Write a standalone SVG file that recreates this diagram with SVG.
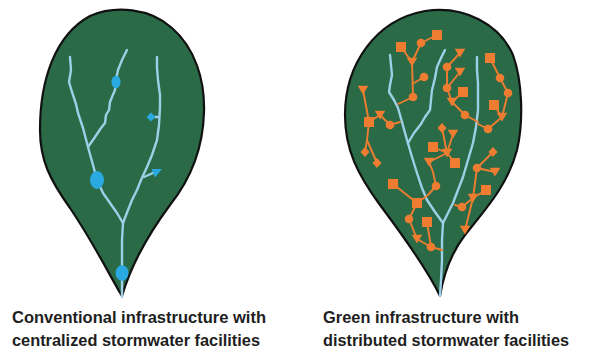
<svg xmlns="http://www.w3.org/2000/svg" width="590" height="356" viewBox="0 0 590 356" xmlns:xlink="http://www.w3.org/1999/xlink">
<style>
.leaf{fill:#2a6a46;stroke:#111;stroke-width:2.2;stroke-linejoin:round}
.stream{fill:none;stroke:#9dd0e6;stroke-width:2.4;stroke-linejoin:round;stroke-linecap:round}
.bl{fill:#2aa9e0}
.or{fill:#ef7d31}
.ol{fill:none;stroke:#ef7d31;stroke-width:1.9;stroke-linecap:round;stroke-linejoin:round}
.lbl{font-family:"Liberation Sans",Arial,sans-serif;font-weight:bold;font-size:17.3px;fill:#1e1e1e}
</style>
<defs>
<rect id="sq" x="-5" y="-5" width="10" height="10"/>
<circle id="ci" r="4.3"/>
<polygon id="tr" points="-5.3,-4.2 5.3,-4.2 0,4.6"/>
<polygon id="di" points="0,-5 4.5,0 0,5 -4.5,0"/>
</defs>

<g id="conventional">
<path class="leaf" d="M122,296 C112,280 95,245 70,208 C50,180 40,160 40,130 C40,80 55,35 90,16 C115,5 150,8 172,28 C195,48 205,80 204,112 C203,150 190,180 170,205 C150,232 132,262 122,296 Z"/>
<g id="conv-streams">
<polyline class="stream" points="70,57 71,70 69,82 72,92 76,104 78,113 83,128 88,147 93,165 97,180 103,193 110,203 117,213 123,223 122,240 122,260 122,297"/>
<polyline class="stream" points="127,50 122,60 118,70 116,80 115,90 112,97 110,102 109,110 106,115 105,123 101,128 95,137 88,147"/>
<polyline class="stream" points="157,57 157,68 158,80 160,95 160,107 159,125 157,140 152,155 147,167 141,180 137,190 132,200 128,210 123,223"/>
<polyline class="stream" points="144,177 153,173"/>
<line class="stream" x1="155" y1="117" x2="158" y2="117"/>
</g>
<ellipse class="bl" cx="116" cy="82" rx="4.5" ry="6.3"/>
<ellipse class="bl" cx="97" cy="180" rx="7" ry="9"/>
<ellipse class="bl" cx="122" cy="273" rx="6.5" ry="7.7"/>
<polygon class="bl" points="146.5,117 151,112.5 155.5,117 151,121.5"/>
<polygon class="bl" points="151.5,169 162,169 155,177.5"/>
</g>

<g id="green">
<path class="leaf" d="M440,296 C430,275 410,245 380,205 C358,175 345,150 345,115 C345,65 375,20 425,11 C465,5 500,25 513,55 C522,80 524,120 517,150 C508,185 485,210 465,235 C452,252 444,272 440,296 Z"/>
<g id="green-streams">
<polyline class="stream" points="390,55 391,65 392,75 390,85 389,92 394,100 398,108 402,122 407,140 412,157 417,173 422,188 427,200 435,212 443,223"/>
<polyline class="stream" points="445,50 441,58 437,67 435,78 432,90 431,100 430,110 425,117 421,124 414,133 408,143"/>
<polyline class="stream" points="477,57 477,70 478,83 478,97 478,110 476,127 473,143 468,160 463,177 458,190 453,203 448,213 443,223 442,240 442,260 441,280 440,296"/>
</g>
<g id="facilities-links">
<polyline class="ol" points="401,47 412,62 421,43 437,35"/>
<polyline class="ol" points="412,62 413,97 398,104"/>
<polyline class="ol" points="414,83 424,77"/>
<polyline class="ol" points="363,90 369,122 380,115 390,125 400,122"/>
<polyline class="ol" points="369,122 367,140 365,152"/>
<polyline class="ol" points="367,140 377,163"/>
<polyline class="ol" points="460,53 447,67 447,88 460,72"/>
<polyline class="ol" points="447,88 452,102 465,115 478,122"/>
<polyline class="ol" points="463,92 452,102"/>
<polyline class="ol" points="490,58 500,78 508,93 502,117 488,129 478,124"/>
<polyline class="ol" points="494,105 502,117"/>
<polyline class="ol" points="442,128 447,153 455,163"/>
<polyline class="ol" points="453,134 447,153 433,147"/>
<polyline class="ol" points="447,153 429,162 433,172 436,186 428,195 417,203 393,184"/>
<polyline class="ol" points="417,203 409,219 417,239 431,247 442,250"/>
<polyline class="ol" points="427,222 431,247"/>
<polyline class="ol" points="493,152 477,168 495,172"/>
<polyline class="ol" points="477,168 473,198 486,190"/>
<polyline class="ol" points="473,198 462,207 455,205"/>
<polyline class="ol" points="473,198 465,230"/>
</g>
<g id="facilities" class="or">
<use href="#sq" x="401" y="47"/>
<use href="#sq" x="437" y="35"/>
<use href="#ci" x="421" y="43"/>
<use href="#tr" x="412" y="62"/>
<use href="#ci" x="424" y="77"/>
<use href="#ci" x="413" y="97"/>
<use href="#tr" x="363" y="90"/>
<use href="#sq" x="369" y="122"/>
<use href="#tr" x="380" y="115"/>
<use href="#ci" x="390" y="125"/>
<use href="#di" x="365" y="152"/>
<use href="#di" x="377" y="163"/>
<use href="#tr" x="460" y="53"/>
<use href="#ci" x="447" y="67"/>
<use href="#tr" x="460" y="72"/>
<use href="#ci" x="447" y="88"/>
<use href="#sq" x="463" y="92"/>
<use href="#tr" x="452" y="102"/>
<use href="#ci" x="465" y="115"/>
<use href="#sq" x="490" y="58"/>
<use href="#ci" x="500" y="78"/>
<use href="#ci" x="508" y="93"/>
<use href="#sq" x="494" y="105"/>
<use href="#tr" x="502" y="117"/>
<use href="#ci" x="488" y="129"/>
<use href="#di" x="442" y="128"/>
<use href="#tr" x="453" y="134"/>
<use href="#sq" x="433" y="147"/>
<use href="#tr" x="447" y="153"/>
<use href="#sq" x="455" y="163"/>
<use href="#tr" x="429" y="162"/>
<use href="#ci" x="436" y="186"/>
<use href="#sq" x="393" y="184"/>
<use href="#sq" x="417" y="203"/>
<use href="#ci" x="409" y="219"/>
<use href="#sq" x="427" y="222"/>
<use href="#tr" x="417" y="239"/>
<use href="#ci" x="431" y="247"/>
<use href="#di" x="493" y="152"/>
<use href="#ci" x="477" y="168"/>
<use href="#tr" x="495" y="172"/>
<use href="#sq" x="486" y="190"/>
<use href="#tr" x="473" y="198"/>
<use href="#ci" x="462" y="207"/>
<use href="#tr" x="465" y="230"/>
</g>
</g>

<g id="labels">
<text class="lbl" x="12" y="323" textLength="254" lengthAdjust="spacingAndGlyphs">Conventional infrastructure with</text>
<text class="lbl" x="12" y="346" textLength="248" lengthAdjust="spacingAndGlyphs">centralized stormwater facilities</text>
<text class="lbl" x="323" y="323" textLength="196" lengthAdjust="spacingAndGlyphs">Green infrastructure with</text>
<text class="lbl" x="323" y="346" textLength="246" lengthAdjust="spacingAndGlyphs">distributed stormwater facilities</text>
</g>
</svg>
